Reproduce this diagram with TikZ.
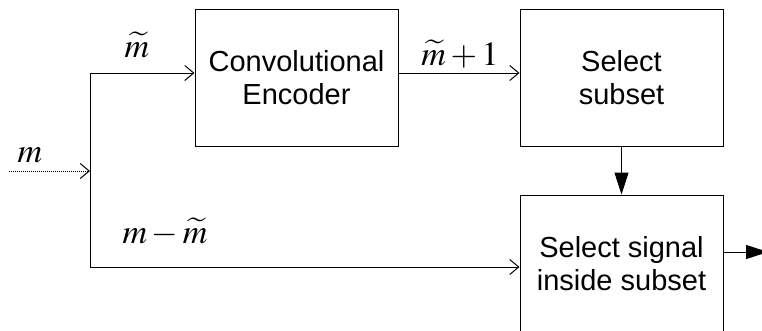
\documentclass[tikz,border=0pt]{standalone}
\usepackage{mathptmx}
\usepackage{fontspec}
\setsansfont{Liberation Sans}
\usetikzlibrary{positioning,arrows.meta}

\begin{document}
\begin{tikzpicture}[x=1pt,y=-1pt,
    block/.style={draw,line width=1pt,align=center,minimum width=203pt,minimum height=137pt,inner sep=0pt,font=\sffamily\fontsize{29}{33}\selectfont},
    lbl/.style={inner sep=0pt,anchor=base,font=\fontsize{34}{38}\selectfont},
    feed/.style={line width=1pt,-{Straight Barb[length=9pt,width=15pt]}},
    flow/.style={line width=1pt,-{Triangle[length=22pt,width=14pt]}}
  ]
    \clip (0,0) rectangle (762,330);
    \node[block] (enc) at (296.5,77.5) {Convolutional\\Encoder};
    \node[block,right=121pt of enc] (sub) {Select\\subset};
    \node[block,below=48pt of sub] (sig) {Select signal\\inside subset};
    \coordinate (src) at (9,171);
    \coordinate (split) at (90,171);
    \coordinate (up) at (90,73);
    \coordinate (down) at (90,267);
    \coordinate (out) at (768,252);
    \node[lbl] (m) at (30,162) {$m$};
    \node[lbl] (mt) at (137,57) {$\widetilde{m}$};
    \node[lbl] (mdiff) at (165,243) {$m-\widetilde{m}$};
    \node[lbl] (mplus) at (460,65) {$\widetilde{m}+1$};
    \draw[feed,densely dotted] (src) -- (split);
    \draw[line width=1pt] (up) -- (down);
    \draw[feed] (up) -- (up -| enc.west);
    \draw[feed] (enc.east |- up) -- (sub.west |- up);
    \draw[feed] (down) -- (down -| sig.west);
    \draw[flow] (sub) -- (sig);
    \draw[flow] (sig.east |- out) -- (out);
  \end{tikzpicture}
\end{document}
